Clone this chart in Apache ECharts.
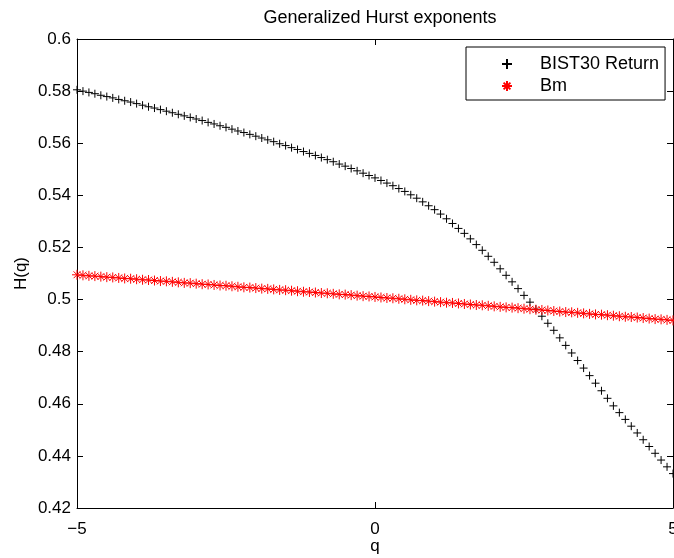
<!DOCTYPE html>
<html>
<head>
<meta charset="utf-8">
<script src="https://cdn.jsdelivr.net/npm/echarts@6/dist/echarts.min.js"></script>
<style>
html,body{margin:0;padding:0;background:#fff;}
#c{width:674px;height:558px;}
</style>
</head>
<body>
<div id="c"></div>
<script>
const qValues = [
-5.0,-4.9,-4.8,-4.7,-4.6,-4.5,-4.4,-4.3,-4.2,-4.1,
-4.0,-3.9,-3.8,-3.7,-3.6,-3.5,-3.4,-3.3,-3.2,-3.1,
-3.0,-2.9,-2.8,-2.7,-2.6,-2.5,-2.4,-2.3,-2.2,-2.1,
-2.0,-1.9,-1.8,-1.7,-1.6,-1.5,-1.4,-1.3,-1.2,-1.1,
-1.0,-0.9,-0.8,-0.7,-0.6,-0.5,-0.4,-0.3,-0.2,-0.1,
0.0,0.1,0.2,0.3,0.4,0.5,0.6,0.7,0.8,0.9,
1.0,1.1,1.2,1.3,1.4,1.5,1.6,1.7,1.8,1.9,
2.0,2.1,2.2,2.3,2.4,2.5,2.6,2.7,2.8,2.9,
3.0,3.1,3.2,3.3,3.4,3.5,3.6,3.7,3.8,3.9,
4.0,4.1,4.2,4.3,4.4,4.5,4.6,4.7,4.8,4.9,
5.0];

const bistReturn = [
0.5805,0.5800,0.5795,0.5790,0.5784,0.5779,0.5774,0.5768,0.5763,0.5758,
0.5752,0.5746,0.5740,0.5735,0.5729,0.5723,0.5717,0.5711,0.5705,0.5699,
0.5693,0.5687,0.5680,0.5674,0.5667,0.5661,0.5654,0.5647,0.5641,0.5634,
0.5627,0.5620,0.5613,0.5606,0.5598,0.5591,0.5583,0.5576,0.5568,0.5561,
0.5553,0.5545,0.5537,0.5529,0.5520,0.5512,0.5503,0.5494,0.5485,0.5476,
0.5467,0.5457,0.5447,0.5437,0.5426,0.5415,0.5402,0.5389,0.5375,0.5360,
0.5345,0.5328,0.5310,0.5292,0.5273,0.5254,0.5233,0.5211,0.5189,0.5166,
0.5143,0.5118,0.5093,0.5068,0.5042,0.5016,0.4990,0.4963,0.4936,0.4909,
0.4882,0.4853,0.4824,0.4795,0.4766,0.4737,0.4708,0.4679,0.4650,0.4621,
0.4592,0.4566,0.4540,0.4514,0.4488,0.4462,0.4436,0.4410,0.4384,0.4358,
0.4332];

const bm = [
0.5095,0.5093,0.5091,0.5090,0.5088,0.5086,0.5085,0.5083,0.5081,0.5080,
0.5078,0.5076,0.5075,0.5073,0.5071,0.5070,0.5068,0.5066,0.5064,0.5063,
0.5061,0.5059,0.5058,0.5056,0.5054,0.5053,0.5051,0.5049,0.5047,0.5046,
0.5044,0.5042,0.5041,0.5039,0.5037,0.5036,0.5034,0.5032,0.5030,0.5029,
0.5027,0.5025,0.5024,0.5022,0.5020,0.5019,0.5017,0.5015,0.5013,0.5012,
0.5010,0.5008,0.5006,0.5005,0.5003,0.5001,0.4999,0.4997,0.4996,0.4994,
0.4992,0.4990,0.4988,0.4987,0.4985,0.4983,0.4981,0.4979,0.4978,0.4976,
0.4974,0.4972,0.4970,0.4969,0.4967,0.4965,0.4963,0.4961,0.4960,0.4958,
0.4956,0.4954,0.4952,0.4951,0.4949,0.4947,0.4945,0.4943,0.4942,0.4940,
0.4938,0.4936,0.4934,0.4933,0.4931,0.4929,0.4927,0.4925,0.4924,0.4922,
0.4920];

const seriesNames = ['BIST30 Return', 'Bm'];
const titleText = 'Generalized Hurst exponents';
const xName = 'q';
const yName = 'H(q)';

const FONT = '"Liberation Sans", Arial, Helvetica, sans-serif';
const plusPath = 'path://M5,0L5,10M0,5L10,5';
const starPath = 'path://M5,0L5,10M0,5L10,5M1.6,1.6L8.4,8.4M1.6,8.4L8.4,1.6';

function pairs(xs, ys){ return xs.map((x,i)=>[x, ys[i]]); }

const chart = echarts.init(document.getElementById('c'), null, {renderer:'canvas'});
const axisLine = {show:true, onZero:false, lineStyle:{color:'#000', width:1}};
const tick = {show:true, inside:true, length:6, lineStyle:{color:'#000'}};
chart.setOption({
  animation:false,
  backgroundColor:'#fff',
  title:{text:titleText, left:375, textAlign:'center', top:4,
    textStyle:{fontFamily:FONT, fontSize:18, fontWeight:'normal', color:'#000'}},
  legend:{
    orient:'vertical', left:466, top:47,
    padding:[8,6,5,35],
    itemWidth:56, itemHeight:10, itemGap:4,
    borderColor:'#000', borderWidth:1, backgroundColor:'#fff',
    textStyle:{fontFamily:FONT, fontSize:18, color:'#000'},
    data:[{name:seriesNames[0], icon:plusPath},{name:seriesNames[1], icon:starPath}]
  },
  grid:{left:77, right:1, top:39, bottom:50, show:false, containLabel:false, outerBoundsMode:'none'},
  xAxis:[{
    type:'value', min:-5, max:5, interval:5,
    name:xName, nameLocation:'middle', nameGap:30, nameMoveOverlap:false,
    nameTextStyle:{fontFamily:FONT, fontSize:17, color:'#000'},
    axisLine:axisLine, axisTick:tick,
    axisLabel:{fontFamily:FONT, fontSize:17, color:'#000', margin:13,
      formatter:v=>String(v).replace('-', '\u2212')},
    splitLine:{show:false}
  },{
    type:'value', min:-5, max:5, interval:5, position:'top',
    axisLine:axisLine, axisTick:tick,
    axisLabel:{show:false}, splitLine:{show:false}
  }],
  yAxis:[{
    type:'value', min:0.42, max:0.6, interval:0.02,
    name:yName, nameLocation:'middle', nameGap:47, nameMoveOverlap:false,
    nameTextStyle:{fontFamily:FONT, fontSize:17, color:'#000'},
    axisLine:axisLine, axisTick:tick,
    axisLabel:{fontFamily:FONT, fontSize:17, color:'#000', margin:6},
    splitLine:{show:false}
  },{
    type:'value', min:0.42, max:0.6, interval:0.02, position:'right',
    axisLine:axisLine, axisTick:tick,
    axisLabel:{show:false}, splitLine:{show:false}
  }],
  series:[{
    name:seriesNames[0], type:'scatter', xAxisIndex:0, yAxisIndex:0,
    symbol:plusPath, symbolSize:8,
    itemStyle:{color:'rgba(0,0,0,0)', borderColor:'#000', borderWidth:1, opacity:1},
    data:pairs(qValues, bistReturn)
  },{
    name:seriesNames[1], type:'scatter', xAxisIndex:0, yAxisIndex:0,
    symbol:starPath, symbolSize:10,
    itemStyle:{color:'rgba(0,0,0,0)', borderColor:'#ff0000', borderWidth:1, opacity:1},
    data:pairs(qValues, bm)
  }]
});
</script>
</body>
</html>
